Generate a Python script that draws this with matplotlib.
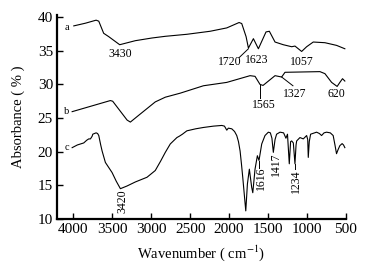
"""
plot.py - IR spectra of three samples (a, b, c), offset vertically.
"""
import matplotlib; matplotlib.use("Agg")
import matplotlib.pyplot as plt

# ---- data ----
wn_a = [3996, 3846, 3709, 3675, 3612, 3547, 3406, 3205, 2991, 2820, 2543, 2244, 2030,
        1872, 1838, 1782, 1752, 1688, 1624, 1526, 1483, 1410, 1304, 1196, 1154, 1068,
        1004, 919, 769, 619, 513]
abs_a = [38.7, 39.1, 39.55, 39.4, 37.6, 37.1, 35.9, 36.5, 36.9, 37.15, 37.45, 37.9, 38.4,
         39.2, 39.05, 37.1, 35.4, 36.8, 35.3, 37.8, 37.9, 36.3, 35.9, 35.6, 35.7, 34.9,
         35.6, 36.3, 36.2, 35.8, 35.3]

wn_b = [4017, 3526, 3496, 3311, 3269, 3163, 2949, 2820, 2628, 2330, 2030, 1731, 1667,
        1603, 1564, 1410, 1325, 1282, 833, 769, 683, 612, 577, 543, 513]
abs_b = [25.95, 27.6, 27.5, 24.7, 24.4, 25.4, 27.4, 28.1, 28.7, 29.8, 30.3, 31.3, 31.2,
         30.0, 29.85, 31.3, 31.1, 31.8, 31.9, 31.6, 30.3, 29.7, 30.3, 30.85, 30.5]

wn_c = [4017, 3950, 3868, 3830, 3804, 3782, 3760, 3752, 3709, 3690, 3675, 3650, 3632,
        3590, 3504, 3450, 3397, 3312, 3205, 3055, 2949, 2880, 2820, 2756, 2671, 2640,
        2600, 2543, 2430, 2330, 2200, 2094, 2060, 2030, 2010, 1966, 1930, 1902, 1880,
        1859, 1840, 1825, 1786, 1765, 1740, 1710, 1696, 1667, 1637, 1616, 1581, 1539,
        1496, 1470, 1450, 1432, 1410, 1390, 1346, 1300, 1270, 1250, 1227, 1210, 1196,
        1175, 1154, 1140, 1132, 1090, 1047, 1004, 990, 983, 970, 953, 876, 840, 812,
        780, 748, 700, 663, 640, 620, 600, 577, 548, 530, 513]
abs_c = [20.6, 21.0, 21.3, 21.7, 21.9, 21.9, 22.3, 22.6, 22.8, 22.7, 22.4, 21.0, 20.1,
         18.4, 16.9, 15.6, 14.5, 14.9, 15.5, 16.2, 17.2, 18.6, 19.9, 21.15, 22.1, 22.3,
         22.6, 23.1, 23.4, 23.6, 23.8, 23.9, 23.8, 23.2, 23.5, 23.4, 23.0, 22.4, 21.5,
         20.1, 18.0, 16.2, 11.2, 15.2, 17.4, 14.7, 13.9, 17.4, 19.4, 18.7, 21.15, 22.4,
         22.9, 22.8, 22.0, 19.9, 21.8, 22.6, 22.9, 22.8, 22.0, 22.6, 18.2, 21.5, 21.6,
         21.3, 18.2, 21.0, 21.6, 22.1, 21.9, 22.4, 21.8, 19.15, 21.5, 22.6, 22.9, 22.7,
         22.4, 22.8, 22.9, 22.8, 22.4, 21.0, 19.7, 20.3, 20.9, 21.2, 21.0, 20.6]

x_ticks = [4000, 3500, 3000, 2500, 2000, 1500, 1000, 500]
y_ticks = [10, 15, 20, 25, 30, 35, 40]

# ---- figure ----
plt.rcParams.update({"font.family": "Liberation Serif", "font.size": 10,
                     "mathtext.fontset": "stix"})
fig = plt.figure(figsize=(3.86, 2.80), dpi=100)
ax = fig.add_axes([0.148, 0.218, 0.748, 0.728])

for wn, ab in [(wn_a, abs_a), (wn_b, abs_b), (wn_c, abs_c)]:
    ax.plot(wn, ab, color="black", lw=0.8)

ax.set_xlim(4210, 500)
ax.set_ylim(10, 40.3)
ax.set_xticks(x_ticks)
ax.set_yticks(y_ticks)
for s in ["top", "right"]:
    ax.spines[s].set_visible(False)
for s in ["left", "bottom"]:
    ax.spines[s].set_linewidth(1.6)
ax.tick_params(direction="in", length=4, width=1.0, labelsize=11, pad=3)
ax.set_xlabel("Wavenumber ( cm$^{-1}$)", fontsize=10.5, labelpad=5)
ax.set_ylabel("Absorbance ( % )", fontsize=10.5, labelpad=9)

# curve letters
fs = 7.5
for txt, y in [("a", 38.4), ("b", 26.0), ("c", 20.6)]:
    ax.text(4085, y, txt, fontsize=fs, ha="center", va="center")

# peak labels, horizontal
ax.text(3397, 34.5, "3430", fontsize=8.5, ha="center", va="center")
ax.text(1987, 33.3, "1720", fontsize=8.5, ha="center", va="center")
ax.plot([1870, 1752], [34.0, 35.3], color="black", lw=0.7)
ax.text(1641, 33.7, "1623", fontsize=8.5, ha="center", va="center")
ax.text(1064, 33.3, "1057", fontsize=8.5, ha="center", va="center")
ax.text(1551, 26.9, "1565", fontsize=8.5, ha="center", va="center")
ax.plot([1600, 1600], [29.9, 28.0], color="black", lw=0.7)
ax.text(1154, 28.6, "1327", fontsize=8.5, ha="center", va="center")
ax.plot([1325, 1180], [31.1, 29.8], color="black", lw=0.7)
ax.text(620, 28.6, "620", fontsize=8.5, ha="center", va="center")

# peak labels, rotated
ax.text(3370, 12.6, "3420", fontsize=8.5, ha="center", va="center", rotation=90)
ax.text(1590, 16.0, "1616", fontsize=8.5, ha="center", va="center", rotation=90)
ax.plot([1610, 1610], [18.6, 17.6], color="black", lw=0.7)
ax.text(1400, 18.1, "1417", fontsize=8.5, ha="center", va="center", rotation=90)
ax.text(1141, 15.6, "1234", fontsize=8.5, ha="center", va="center", rotation=90)
ax.plot([1152, 1152], [18.2, 17.4], color="black", lw=0.7)

fig.savefig("out.png", dpi=100)
